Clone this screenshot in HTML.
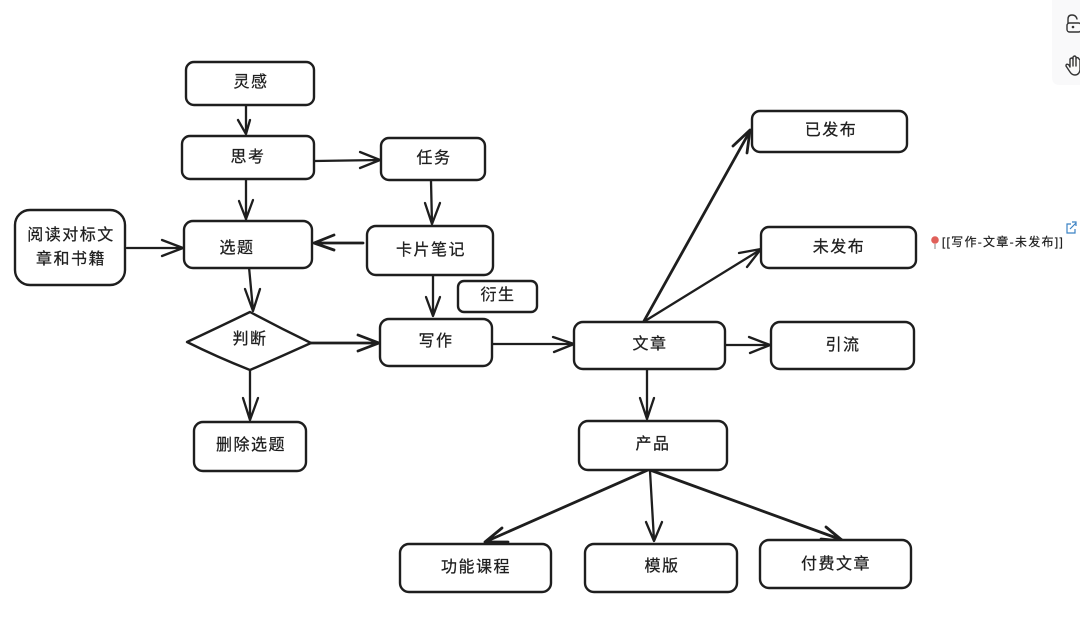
<!DOCTYPE html>
<html lang="zh"><head><meta charset="utf-8"><title>写作流程图</title>
<style>
html,body{margin:0;padding:0;background:#fff;width:1080px;height:617px;overflow:hidden}
svg{display:block}
text{font-family:"Liberation Sans","Noto Sans CJK SC",sans-serif;fill:#1e1e1e;stroke:#1e1e1e;stroke-width:.25;text-anchor:middle;font-size:16px;letter-spacing:1.5px}
.b{fill:#fff;stroke:#1e1e1e;stroke-width:2.4}
.l{fill:none;stroke:#1e1e1e;stroke-width:2.3;stroke-linecap:round;stroke-linejoin:round}
.t{stroke-width:2.8}
</style></head><body>
<svg width="1080" height="617" viewBox="0 0 1080 617" xmlns="http://www.w3.org/2000/svg">
<rect width="1080" height="617" fill="#fff"/>
<path d="M1052 -2H1080V85H1060Q1052 85 1052 77Z" fill="#f9f9fa"/>
<g fill="none" stroke="#333" stroke-width="1.4" stroke-linecap="round" stroke-linejoin="round">
<rect x="1067" y="23" width="14" height="9" rx="2.5"/><path d="M1068 23V19Q1068 15 1072 15Q1076 15 1077 19"/>
<path d="M1070 72L1066 66Q1066 63 1069 65L1070 67V59Q1072 57 1073 59V57Q1075 55 1076 57V58Q1078 57 1079 59L1080 60V70Q1079 75 1075 75Q1072 75 1070 72Z"/>
<path d="M1073 59V66M1076 58V66"/>
</g>
<circle cx="1073" cy="27" r="1.3" fill="#333"/>

<!-- connectors -->
<g class="l">
<path d="M246 105L246 133M238 120L246 134L250 120"/>
<path d="M246 180L246 220M239 201L246 219L253 200"/>
<path d="M315 161L380 160M360 152L380 160L360 168"/>
<path d="M431 181L432 224M425 203L432 224L440 203"/>
<path d="M127 248L183 248M162 240L183 248L162 256"/>
<path class="l t" d="M363 243L314 243M334 235L314 243L334 250"/>
<path d="M249 267L253 310M245 289L253 311L260 289"/>
<path d="M433 276L433 316M426 297L433 316L440 297"/>
<path class="l t" d="M311 343L379 343M358 335L379 343L358 351"/>
<path d="M250 370L250 419M243 398L250 420L258 398"/>
<path d="M493 344L573 344M553 337L574 344L554 352"/>
<path class="l t" d="M644 321L750 131M733 146L750 130L747 153"/>
<path d="M645 321L760 250M739 253L761 249L747 267"/>
<path d="M726 345L769 345M749 337L770 345L750 353"/>
<path d="M647 370L647 418M640 398L647 419L654 398"/>
<path class="l t" d="M648 470L485 542M502 528L485 542L508 542"/>
<path class="l" d="M650 471L654 540M646 522L654 541L662 522"/>
<path class="l t" d="M650 470L842 540M826 527L843 541L821 539"/>
</g>

<!-- nodes -->
<rect class="b" x="186" y="62" width="128" height="43" rx="8"/>
<rect class="b" x="182" y="136" width="132" height="43" rx="8"/>
<rect class="b" x="381" y="138" width="104" height="42" rx="8"/>
<rect class="b" x="184" y="221" width="128" height="47" rx="9"/>
<rect class="b" x="367" y="226" width="126" height="49" rx="9"/>
<rect class="b" x="15" y="210" width="110" height="75" rx="15"/>
<rect class="b" x="458" y="281" width="79" height="31" rx="6"/>
<rect class="b" x="380" y="319" width="112" height="47" rx="9"/>
<path class="b" d="M187 342Q217 328 250 312Q280 328 311 343Q280 357 250 370Q217 357 187 342Z" stroke-linejoin="round"/>
<rect class="b" x="194" y="422" width="112" height="49" rx="9"/>
<rect class="b" x="574" y="322" width="151" height="47" rx="9"/>
<rect class="b" x="752" y="111" width="155" height="41" rx="8"/>
<rect class="b" x="761" y="227" width="155" height="41" rx="8"/>
<rect class="b" x="771" y="322" width="143" height="47" rx="9"/>
<rect class="b" x="579" y="421" width="148" height="49" rx="9"/>
<rect class="b" x="400" y="544" width="151" height="48" rx="9"/>
<rect class="b" x="585" y="544" width="152" height="48" rx="9"/>
<rect class="b" x="760" y="540" width="151" height="48" rx="9"/>

<!-- labels -->
<text x="251" y="87">灵感</text>
<text x="248" y="162">思考</text>
<text x="434" y="163">任务</text>
<text x="237" y="253">选题</text>
<text x="431" y="255">卡片笔记</text>
<text x="71" y="240">阅读对标文</text>
<text x="71" y="264">章和书籍</text>
<text x="498" y="300">衍生</text>
<text x="436" y="346">写作</text>
<text x="250" y="344">判断</text>
<text x="251" y="450">删除选题</text>
<text x="650" y="349">文章</text>
<text x="831" y="135">已发布</text>
<text x="839" y="252">未发布</text>
<text x="843" y="350">引流</text>
<text x="653" y="449">产品</text>
<text x="476" y="572">功能课程</text>
<text x="662" y="571">模版</text>
<text x="836" y="569">付费文章</text>

<!-- annotation -->
<circle cx="935" cy="240" r="3.8" fill="#e0605a"/><path d="M935 244V249" stroke="#999" stroke-width="1.2"/>
<text x="1003" y="246" style="font-size:12px;letter-spacing:1.3px;stroke-width:.2">[[写作-文章-未发布]]</text>
<g fill="none" stroke="#3b82c4" stroke-width="1.2"><path d="M1071 224H1067V233H1075V229"/><path d="M1070 229L1076 223M1072 222H1076V226"/></g>
</svg>
</body></html>
